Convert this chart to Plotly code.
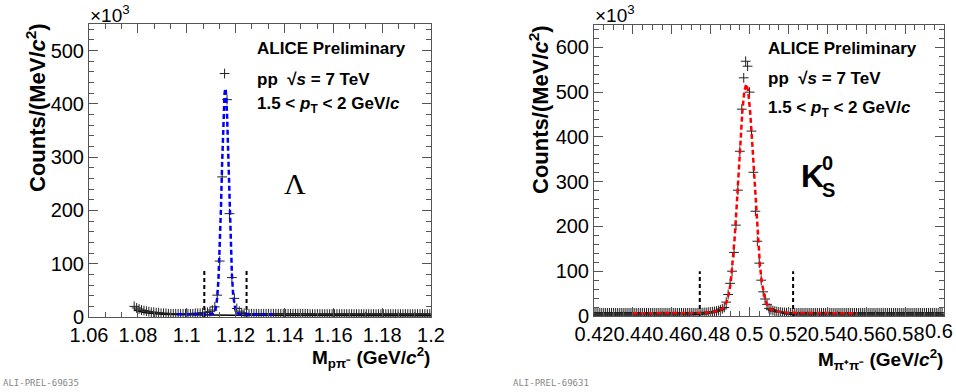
import numpy as np
import plotly.graph_objects as go

W, H = 956, 392

# ---------------- Lambda panel data ----------------
lam_x = np.round(np.arange(1.0785, 1.2, 0.001), 4)
lam_y = [20, 17, 15, 13, 12, 11, 10, 9, 9, 8,
         8, 7, 7, 7, 6, 6, 6, 6, 6, 6,
         6, 6, 6, 6, 6, 7, 7, 7, 8, 8,
         9, 10, 13, 19, 41, 105, 263, 457, 408, 194,
         74, 35, 16, 11, 8, 7, 6, 6, 6, 6,
         6, 6, 6, 6, 6, 6, 6, 6, 6, 6,
         6, 6, 6, 6, 6, 6, 6, 6, 6, 6,
         6, 6, 5.5, 5.5, 5.5, 5.5, 5.5, 5.5, 5.5, 5.5,
         5.5, 5.5, 5.5, 5.5, 5.5, 5.5, 5.5, 5.5, 5.5, 5.5,
         5.5, 5.5, 5.5, 5.5, 5.5, 5.5, 5.5, 5.5, 5.5, 5.5,
         5.5, 5.5, 5.5, 5.5, 5.5, 5.5, 5.5, 5.5, 5.5, 5.5,
         5.5, 5.5, 5.5, 5.5, 5.5, 5.5, 5.5, 5.5, 5.5, 5.5,
         5.5, 5.5][:len(lam_x)]

lam_fit_x = [1.0960, 1.1000, 1.1050, 1.1080, 1.1095, 1.1105, 1.1110, 1.1115, 1.1120, 1.1125,
             1.1130, 1.1135, 1.1140, 1.1145, 1.1150, 1.1155, 1.1158, 1.1160, 1.1165, 1.1170,
             1.1175, 1.1180, 1.1185, 1.1190, 1.1195, 1.1200, 1.1205, 1.1210, 1.1220, 1.1250,
             1.1300, 1.1353]
lam_fit_y = [5, 5, 5, 5, 5, 5.5, 7, 10, 19, 37,
             71, 125, 201, 289, 369, 420, 429, 425, 382, 306,
             218, 139, 80, 42, 21, 11, 7, 6, 5, 5,
             5, 5]

lam_bkg_x = [1.0785, 1.080, 1.082, 1.084, 1.086, 1.088, 1.090, 1.095, 1.100, 1.120, 1.150, 1.200]
lam_bkg_y = [13, 11, 9, 7.5, 6.5, 5.5, 5, 4.5, 4, 3.5, 3, 2.5]

lam_window = [1.1072, 1.1245]
lam_window_top = 87

lam_xticks = [1.06, 1.08, 1.10, 1.12, 1.14, 1.16, 1.18, 1.20]
lam_xlabels = ["1.06", "1.08", "1.1", "1.12", "1.14", "1.16", "1.18", "1.2"]
lam_yticks = [0, 100, 200, 300, 400, 500]

# ---------------- K0S panel data ----------------
k_x = np.round(np.arange(0.420, 0.6005, 0.001), 4)
k_y = ([7] * 56 +
       [7.5, 8, 8, 8.5, 9, 9.5, 10, 11, 12, 14, 16,
        19, 31, 48, 73, 100, 142, 203, 281, 368, 462, 532, 569,
        558, 500, 413, 321, 234, 167, 118, 80, 54, 38, 26, 17,
        14, 12, 11, 10, 9, 8.5, 8, 8, 7.5] +
       [7] * 80)[:len(k_x)]

k_fit_x = [0.4398, 0.450, 0.460, 0.470, 0.475, 0.478, 0.481, 0.4843, 0.4863, 0.4873,
           0.4883, 0.4893, 0.4903, 0.4913, 0.4923, 0.4933, 0.4943, 0.4953, 0.4963, 0.4973,
           0.4983, 0.4993, 0.5003, 0.5013, 0.5023, 0.5033, 0.5043, 0.5053, 0.5063, 0.5073,
           0.5083, 0.5093, 0.5103, 0.5123, 0.5153, 0.5183, 0.522, 0.530, 0.540, 0.5555]
k_fit_y = [6, 6, 6, 6.5, 7, 8, 9, 11, 17, 23,
           33, 49, 74, 116, 172, 240, 316, 392, 457, 502,
           518, 502, 457, 392, 316, 240, 172, 116, 74, 49,
           33, 23, 17, 11, 9, 8, 7, 6.5, 6, 6]

k_bkg_x = [0.420, 0.470, 0.478, 0.483, 0.487, None, 0.510, 0.514, 0.518, 0.523, 0.600]
k_bkg_y = [2.5, 3, 5, 9, 17, None, 16, 10, 5, 3, 2.5]

k_window = [0.4744, 0.5224]
k_window_top = 100

k_xticks = [0.42, 0.44, 0.46, 0.48, 0.50, 0.52, 0.54, 0.56, 0.58, 0.60]
k_xlabels = ["0.42", "0.44", "0.46", "0.48", "0.5", "0.52", "0.54", "0.56", "0.58", ""]
k_last_label = "0.6"  # drawn as text so it stays inside the page, as in the original
k_yticks = [0, 100, 200, 300, 400, 500, 600]


def vlines(xs, top):
    X, Y = [], []
    for x in xs:
        X += [x, x, None]
        Y += [0, top, None]
    return X, Y


fig = go.Figure()

# Lambda
fig.add_trace(go.Scatter(x=lam_bkg_x, y=lam_bkg_y, mode="lines",
                         line=dict(color="black", width=1.5), xaxis="x", yaxis="y"))
vx, vy = vlines(lam_window, lam_window_top)
fig.add_trace(go.Scatter(x=vx, y=vy, mode="lines",
                         line=dict(color="black", width=2, dash="4px,3px"), xaxis="x", yaxis="y"))
fig.add_trace(go.Scatter(x=lam_x, y=lam_y, mode="markers",
                         marker=dict(symbol="cross-thin", size=7, line=dict(color="#222", width=1)),
                         xaxis="x", yaxis="y"))
fig.add_trace(go.Scatter(x=lam_fit_x, y=lam_fit_y, mode="lines",
                         line=dict(color="#0000ff", width=2.5, dash="5px,3px"), xaxis="x", yaxis="y"))

# K0S
fig.add_trace(go.Scatter(x=k_bkg_x, y=k_bkg_y, mode="lines", connectgaps=False,
                         line=dict(color="black", width=1.5), xaxis="x2", yaxis="y2"))
vx, vy = vlines(k_window, k_window_top)
fig.add_trace(go.Scatter(x=vx, y=vy, mode="lines",
                         line=dict(color="black", width=2, dash="4px,3px"), xaxis="x2", yaxis="y2"))
fig.add_trace(go.Scatter(x=k_x, y=k_y, mode="markers",
                         marker=dict(symbol="cross-thin", size=7, line=dict(color="#222", width=1)),
                         xaxis="x2", yaxis="y2"))
fig.add_trace(go.Scatter(x=k_fit_x, y=k_fit_y, mode="lines",
                         line=dict(color="#ff0000", width=2.5, dash="5px,3px"), xaxis="x2", yaxis="y2"))

FONT = "Liberation Sans, Arial, Helvetica, sans-serif"
AXC = "#555"


def xax(dom, rng, ticks, labels, minor):
    return dict(domain=dom, range=rng, tickmode="array", tickvals=ticks, ticktext=labels,
                ticks="inside", ticklen=9, ticklabeloverflow="allow",
                tickcolor=AXC, tickwidth=1, mirror="allticks", showline=True, linecolor=AXC,
                linewidth=1, showgrid=False, zeroline=False, tickangle=0, automargin=False,
                tickfont=dict(family=FONT, size=20, color="black"),
                minor=dict(tickmode="linear", tick0=rng[0], dtick=minor, ticks="inside",
                           ticklen=5, tickcolor=AXC, showgrid=False))


def yax(dom, rng, ticks, anchor):
    return dict(domain=dom, range=rng, tickmode="array", tickvals=ticks,
                ticktext=[str(t) for t in ticks], ticks="inside", ticklen=9,
                ticklabeloverflow="allow",
                tickcolor=AXC, tickwidth=1, mirror="allticks", showline=True, linecolor=AXC,
                linewidth=1, showgrid=False, zeroline=False, anchor=anchor, automargin=False,
                tickfont=dict(family=FONT, size=20, color="black"),
                minor=dict(tickmode="linear", tick0=0, dtick=20, ticks="inside", ticklen=5,
                           tickcolor=AXC, showgrid=False))


fig.update_layout(
    width=W, height=H, autosize=False,
    margin=dict(l=0, r=0, t=0, b=0, pad=0, autoexpand=False),
    paper_bgcolor="white", plot_bgcolor="white",
    showlegend=False,
    xaxis=dict(**xax([89 / W, 431 / W], [1.06, 1.2], lam_xticks, lam_xlabels, 0.02 / 3),
               anchor="y"),
    yaxis=yax([1 - 317 / H, 1 - 24 / H], [0, 550], lam_yticks, "x"),
    xaxis2=dict(**xax([594 / W, 944 / W], [0.42, 0.6], k_xticks, k_xlabels, 0.005),
                anchor="y2"),
    yaxis2=yax([1 - 316 / H, 1 - 25 / H], [0, 650], k_yticks, "x2"),
)


def ann(text, px, py, size=17, xanchor="left", yanchor="middle", family=FONT, color="black",
        angle=0):
    fig.add_annotation(text=text, x=px / W, y=1 - py / H, xref="paper", yref="paper",
                       xanchor=xanchor, yanchor=yanchor, showarrow=False, textangle=angle,
                       font=dict(family=family, size=size, color=color))


# Left panel texts
ann("<b>ALICE Preliminary</b>", 255, 48)
ann("<b>pp  √<i>s</i> = 7 TeV</b>", 255, 79)
ann("<b>1.5 < <i>p</i><sub>T</sub> < 2 GeV/<i>c</i></b>", 255, 105)
ann("Λ", 295, 183, size=30, xanchor="center", family="Liberation Serif, Times New Roman, serif")
ann("×10<sup>3</sup>", 88, 14, size=19)
ann("<b>Counts/(MeV/<i>c</i><sup>2</sup>)</b>", 36, 108, size=22, xanchor="center", angle=-90)
ann("<b>M<sub>pπ⁻</sub> (GeV/<i>c</i><sup>2</sup>)</b>", 432, 357, size=19, xanchor="right")
ann("ALI-PREL-69635", 1, 383, size=9, family="DejaVu Sans Mono, monospace", color="#888")

# Right panel texts
ann("<b>ALICE Preliminary</b>", 766, 48)
ann("<b>pp  √<i>s</i> = 7 TeV</b>", 766, 78)
ann("<b>1.5 < <i>p</i><sub>T</sub> < 2 GeV/<i>c</i></b>", 766, 109)
ann("<b>K</b>", 812, 176, size=32, xanchor="center")
ann("<b>0</b>", 827, 163, size=20, xanchor="center")
ann("<b>S</b>", 828, 190, size=20, xanchor="center")
ann("×10<sup>3</sup>", 593, 14, size=19)
ann("<b>Counts/(MeV/<i>c</i><sup>2</sup>)</b>", 539, 110, size=22, xanchor="center", angle=-90)
ann("<b>M<sub>π⁺π⁻</sub> (GeV/<i>c</i><sup>2</sup>)</b>", 945, 359, size=19, xanchor="right")
ann("ALI-PREL-69631", 511, 383, size=9, family="DejaVu Sans Mono, monospace", color="#888")
ann(k_last_label, 939, 331, size=20, xanchor="center")

fig.write_html("out.html")
